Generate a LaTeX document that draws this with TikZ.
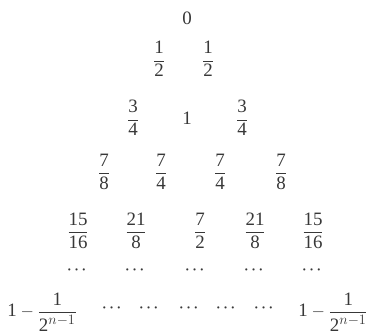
\documentclass[tikz,border=0pt]{standalone}
\usepackage{amsmath}
\usepackage{fontspec}
\setmainfont{Liberation Serif}
\usepackage{tikz}
\definecolor{numgray}{rgb}{.22,.22,.22}
\newcommand{\fr}[2]{$\dfrac{\text{#1}}{\text{#2}}$}
\newcommand{\lastterm}{$\text{1}-\dfrac{\text{1}}{\text{2}^{n-1}}$}

\begin{document}
\begin{tikzpicture}[x=1bp,y=-1bp,font=\fontsize{19}{22}\selectfont,
    entry/.style={text=numgray,inner sep=0pt},
    dotsbox/.style={entry,font=\fontsize{15}{17}\selectfont\boldmath}]
        \useasboundingbox (0,0) rectangle (366,334);
        % top
        \node[entry](top)at(187,18){0};
        % rows of the triangle
        \node[entry](r2a)at(159,59){\fr{1}{2}};
        \node[entry](r2b)at(208,59){\fr{1}{2}};
        \node[entry](r3a)at(133,118){\fr{3}{4}};
        \node[entry](r3b)at(187,118){1};
        \node[entry](r3c)at(242,118){\fr{3}{4}};
        \node[entry](r4a)at(104,172){\fr{7}{8}};
        \node[entry](r4b)at(161,172){\fr{7}{4}};
        \node[entry](r4c)at(220,172){\fr{7}{4}};
        \node[entry](r4d)at(281,172){\fr{7}{8}};
        \node[entry](r5a)at(78,231){\fr{15}{16}};
        \node[entry](r5b)at(136,231){\fr{21}{8}};
        \node[entry](r5c)at(200,231){\fr{7}{2}};
        \node[entry](r5d)at(255,231){\fr{21}{8}};
        \node[entry](r5e)at(313,231){\fr{15}{16}};
        % dots
        \foreach \x[count=\i] in {78,136,196,255,313}
            \node[dotsbox](d\i)at(\x,270){$\cdots$};
        % last row
        \node[entry](lastl)at(42,312){\lastterm};
        \foreach \x[count=\i] in {113,150,190,227,265}
            \node[dotsbox](e\i)at(\x,308){$\cdots$};
        \node[entry](lastr)at(333,312){\lastterm};
    \end{tikzpicture}
\end{document}
